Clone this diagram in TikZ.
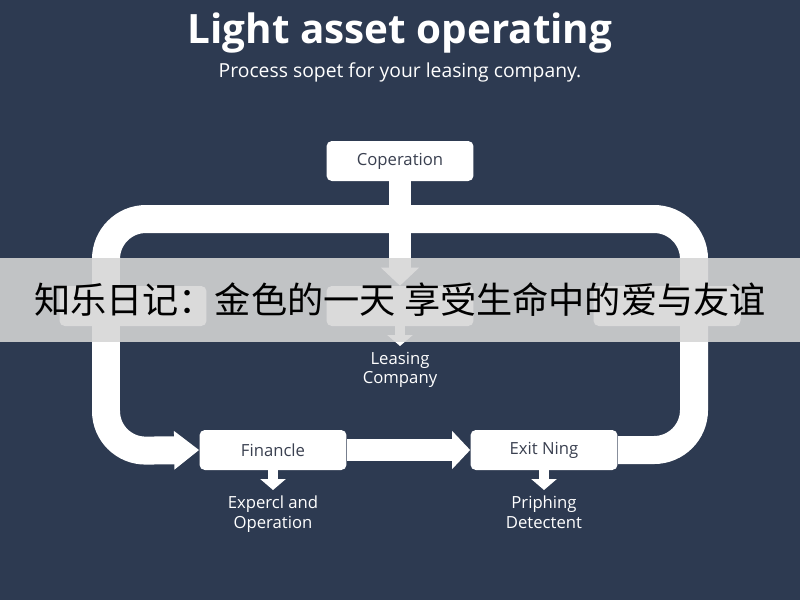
\documentclass[tikz,border=0pt]{standalone}
\usepackage{fontspec}
\setmainfont{Open Sans}
\newfontfamily\cjk{Noto Sans CJK SC}
\usetikzlibrary{arrows.meta}
\definecolor{bgblue}{HTML}{2D3A51}
\definecolor{banner}{HTML}{D6D6D6}
\definecolor{boxtext}{HTML}{3A4050}

\begin{document}
\begin{tikzpicture}[x=0.02cm,y=-0.02cm,
  box/.style={fill=white, rounded corners=3pt, minimum width=2.94cm, minimum height=0.8cm,
    font=\fontsize{9.5}{11}\selectfont, text=boxtext},
  note/.style={text=white, align=center, font=\fontsize{9.5}{11}\selectfont},
  band/.style={draw=white, line width=0.56cm, rounded corners=0.8cm,
    -{Triangle[width=0.74cm,length=0.5cm]}},
  stem/.style={draw=white, line width=0.44cm, -{Triangle[width=0.74cm,length=0.36cm]}},
  tick/.style={draw=white, line width=0.2cm, -{Triangle[width=0.5cm,length=0.22cm]}},
]
\fill[bgblue] (0,0) rectangle (800,600);

\node[text=white, font=\fontsize{23}{26}\selectfont\bfseries] (title) at (400,33) {Light asset operating};
\node[text=white, font=\fontsize{11}{13}\selectfont] (sub) at (400,72) {Process sopet for your leasing company.};

% boxes
\node[box] (coop) at (400,161) {Coperation};
\node[box] (manage) at (400,306) {};
\node[box] (left) at (133,306) {};
\node[box] (right) at (667,306) {};
\node[box] (fin) at (273,450) {Financle};
\node[box] (exit) at (544,450) {Exit Ning};

% connectors
\draw[band] (exit.east) -| (694,219) -| (106,451) -- (fin.west);
\draw[stem] (coop.south) -- (manage.north);
\draw[stem] (fin.east) -- (exit.west);

\coordinate (lc) at (400,346);
\coordinate (fe) at (273,490);
\coordinate (ee) at (544,490);
\draw[tick] (manage.south) -- (lc);
\draw[tick] (fin.south) -- (fe);
\draw[tick] (exit.south) -- (ee);
\node[note, below=0pt] at (lc) {Leasing\\Company};
\node[note, below=0pt] at (fe) {Expercl and\\Operation};
\node[note, below=0pt] at (ee) {Priphing\\Detectent};

% banner
\fill[banner, opacity=0.88] (0,258) rectangle (800,342);
\node[font=\cjk\fontsize{20.6}{23}\selectfont, text=black] (cap) at (400,300) {知乐日记：金色的一天 享受生命中的爱与友谊};
\end{tikzpicture}
\end{document}
